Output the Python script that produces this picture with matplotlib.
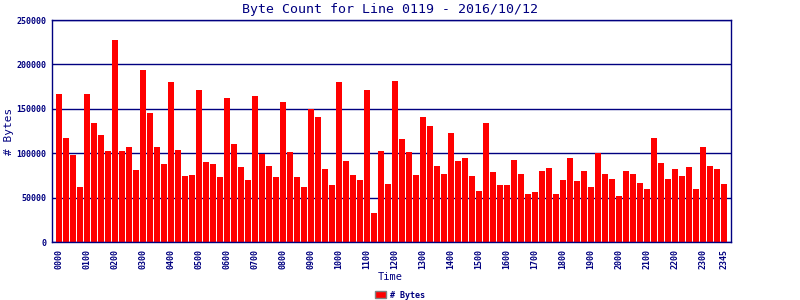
import matplotlib
matplotlib.use("Agg")
import matplotlib.pyplot as plt
from matplotlib.patches import Patch

values = [
    167000, 117300, 98100, 62000, 167000, 134200, 120700, 102600,
    227800, 102600, 107100, 81200, 194000, 145500, 107100, 88000,
    180500, 103800, 74400, 75600, 171400, 90200, 88000, 73300,
    162400, 110500, 84600, 69900, 164700, 99200, 85700, 73300,
    157900, 101500, 73300, 62000, 149600, 141000, 82300, 64300,
    180500, 91400, 75600, 69900, 171400, 32700, 102600, 65400,
    181600, 116200, 101500, 75600, 141000, 130800, 85700, 76700,
    122900, 91400, 94700, 74400, 57500, 134200, 78900, 64300,
    64300, 92500, 76700, 54100, 56400, 80100, 83500, 54100,
    69900, 94700, 68800, 80100, 62000, 100400, 76700, 71100,
    51900, 80100, 76700, 66500, 59800, 117300, 89100, 71100,
    82300, 74400, 84600, 59800, 107100, 85700, 82300, 65400,
]
times = ["%02d%02d" % (h, m) for h in range(24) for m in (0, 15, 30, 45)]
tick_labels = ["%02d00" % h for h in range(24)] + ["2345"]
y_ticks = [0, 50000, 100000, 150000, 200000, 250000]

navy = "#000080"
mono = "DejaVu Sans Mono"

fig = plt.figure(figsize=(8, 3), dpi=100)
ax = fig.add_axes([52 / 800, 58 / 300, 679 / 800, 222 / 300])

x = list(range(len(values)))
ax.bar(x, values, width=6 / 7, color="#ff0000", linewidth=0, zorder=2)

ax.set_xlim(-1, len(values))
ax.set_ylim(0, 250000)
ax.set_yticks(y_ticks)
ax.set_yticklabels([str(v) for v in y_ticks], fontfamily=mono,
                   fontweight="bold", fontsize=6, color=navy)
tick_pos = [times.index(t) for t in tick_labels]
ax.set_xticks(tick_pos)
ax.set_xticklabels(tick_labels, rotation=90, fontfamily=mono,
                   fontweight="bold", fontsize=6, color=navy)
ax.tick_params(axis="both", length=0)
ax.tick_params(axis="y", pad=4)
ax.tick_params(axis="x", pad=5)

ax.set_axisbelow(True)
ax.yaxis.grid(True, color=navy, linewidth=1.0)
for s in ax.spines.values():
    s.set_color(navy)
    s.set_linewidth(1.0)

fig.text(0.4875, 1 - 9 / 300, "Byte Count for Line 0119 - 2016/10/12",
         ha="center", va="center", fontfamily=mono, fontsize=9.5, color=navy)
fig.text(390 / 800, 1 - 277 / 300, "Time", ha="center", va="center",
         fontfamily=mono, fontsize=7.5, color=navy)
fig.text(9 / 800, 1 - 131 / 300, "# Bytes", ha="center", va="center",
         rotation=90, fontfamily=mono, fontsize=8, color=navy)

handle = Patch(facecolor="#ff0000", edgecolor="#808080", linewidth=1)
fig.legend([handle], ["# Bytes"], loc="center", bbox_to_anchor=(400 / 800, 1 - 295 / 300),
           frameon=False, prop={"family": mono, "weight": "bold", "size": 6},
           labelcolor=navy, handlelength=1.3, handleheight=0.9, handletextpad=0.4,
           borderpad=0, borderaxespad=0)

fig.savefig("out.png", dpi=100)
